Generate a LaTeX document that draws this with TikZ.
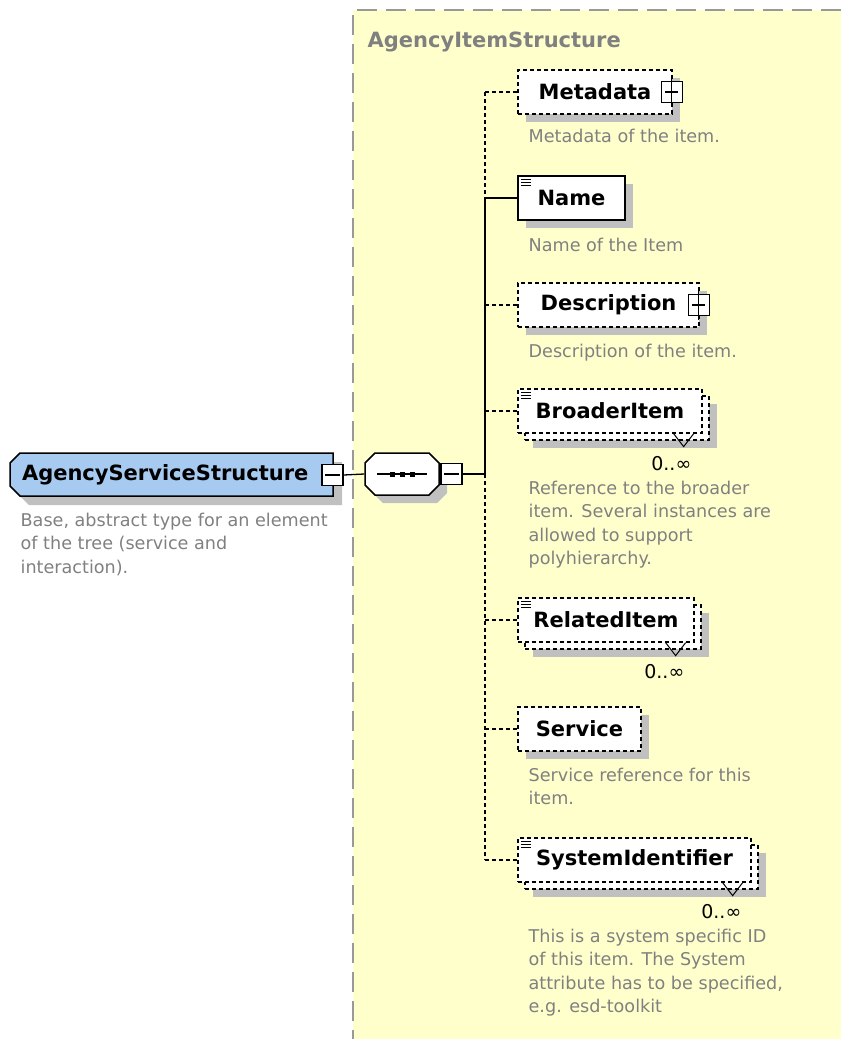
\documentclass[tikz,border=0pt]{standalone}
\usepackage{fontspec}
\setmainfont{DejaVu Sans}
\usetikzlibrary{shadows}

\definecolor{areayellow}{HTML}{FFFFCC}
\definecolor{typeblue}{HTML}{A6CAF0}
\definecolor{docgray}{HTML}{808080}
\definecolor{shadowgray}{HTML}{C0C0C0}
\definecolor{bordergray}{HTML}{999999}

\newcommand{\elemfont}{\fontsize{21}{25}\selectfont\bfseries}
\newcommand{\docfont}{\fontsize{17.6}{23.5}\selectfont}

\tikzset{
    elem/.style={draw, fill=white, line width=1.3pt, minimum height=44pt, inner sep=0pt, font=\elemfont},
    optional/.style={dash pattern=on 4pt off 3pt},
    boxshadow/.style={general shadow={fill=shadowgray, shadow xshift=8pt, shadow yshift=-8pt}},
    doc/.style={anchor=base west, inner sep=0pt, align=left, text=docgray, font=\docfont},
    occurs/.style={anchor=base east, inner sep=0pt, font=\fontsize{19}{20}\selectfont},
    togglebox/.style={draw, fill=white, line width=1.1pt, minimum width=21pt, minimum height=21pt, inner sep=0pt},
    minusbox/.style={togglebox, path picture={
        \draw[line width=1.1pt] ([xshift=3pt]path picture bounding box.west) -- ([xshift=-3pt]path picture bounding box.east);}},
    plusbox/.style={togglebox, path picture={
        \draw[line width=1.1pt] ([xshift=4pt]path picture bounding box.west) -- ([xshift=-4pt]path picture bounding box.east);}},
}

\begin{document}
\begin{tikzpicture}[x=1pt, y=-1pt, line width=1.3pt]
    \useasboundingbox (0,0) rectangle (841,1039);

    % the complex type area
    \fill[areayellow] (353,10) rectangle (841,1039);
    \draw[bordergray, line width=1.5pt, dash pattern=on 20pt off 9pt] (841,10) -- (353,10) -- (353,1039);
    \node[anchor=base west, inner sep=0pt, text=docgray, font=\elemfont] (areatitle) at (367,47) {AgencyItemStructure};

    % base type
    \fill[shadowgray, shift={(9,9)}] (20,453) -- (333,453) -- (333,496) -- (20,496) -- (10,486) -- (10,463) -- cycle;
    \filldraw[fill=typeblue, line width=1.5pt] (20,453) -- (333,453) -- (333,496) -- (20,496) -- (10,486) -- (10,463) -- cycle;
    \node[minimum width=323pt, minimum height=43pt, inner sep=0pt, text width=299pt, align=left, font=\elemfont]
          (agency) at (171.5,474.5) {AgencyServiceStructure};
    \node[minusbox] (agencytoggle) at (332.5,475) {};
    \node[doc] (agencydoc) at (20,573) {Base, abstract type for an element\\of the tree (service and\\interaction).};

    % sequence
    \fill[shadowgray, shift={(8,8)}] (365,463) -- (375,453) -- (429,453) -- (439,463) -- (439,485) -- (429,495) -- (375,495) -- (365,485) -- cycle;
    \filldraw[fill=white, line width=1.5pt] (365,463) -- (375,453) -- (429,453) -- (439,463) -- (439,485) -- (429,495) -- (375,495) -- (365,485) -- cycle;
    \node[minimum width=74pt, minimum height=42pt, inner sep=0pt] (seq) at (402,474) {};
    \draw[line width=1.3pt] ([xshift=-25pt]seq.center) -- ([xshift=25pt]seq.center);
    \foreach \dx in {-10,0,10}
        \fill ([xshift=\dx pt]seq.center) ++(-2.5,-2.5) rectangle ++(5,5);
    \node[minusbox] (seqtoggle) at (451.5,474) {};
    \coordinate (spine) at (485,474);

    \draw (agencytoggle.east) -- (seq.west);
    \draw (seqtoggle.east) -- (spine);

    % child elements
    \begin{scope}[every node/.append style={elem}]
        \node[optional, boxshadow, minimum width=154pt] (metadata) at (595,92) {Metadata};
        \node[boxshadow, minimum width=107pt] (name) at (571.5,198) {Name};
        \node[optional, boxshadow, minimum width=181pt] (description) at (608.5,305) {Description};
        \node[optional, boxshadow, minimum width=184pt] (broaderback) at (617,418) {};
        \node[optional, minimum width=184pt] (broader) at (610,411) {BroaderItem};
        \node[optional, boxshadow, minimum width=176pt] (relatedback) at (613,627) {};
        \node[optional, minimum width=176pt] (related) at (606,620) {RelatedItem};
        \node[optional, boxshadow, minimum width=123pt] (service) at (579.5,729) {Service};
        \node[optional, boxshadow, minimum width=233pt] (sysidback) at (641.5,867) {};
        \node[optional, minimum width=233pt] (sysid) at (634.5,860) {SystemIdentifier};
    \end{scope}

    \node[plusbox] (metadatatoggle) at ([xshift=-1pt]metadata.east) {};
    \node[plusbox] (descriptiontoggle) at ([xshift=-1pt]description.east) {};
    \foreach \el in {metadatatoggle,descriptiontoggle}
        \draw[line width=1.1pt] ([yshift=4pt]\el.north) -- ([yshift=-4pt]\el.south);

    % simple content marks
    \foreach \el in {name,broader,related,sysid}
        \foreach \dy in {4,7,10}
            \draw[line width=1pt] ([shift={(4,\dy)}]\el.north west) -- ++(10,0);

    % repeat marks and occurrences
    \foreach \el in {broader,related,sysid}
        \draw[line width=1pt] ([shift={(-29,0)}]\el.south east) -- ++(10,13) -- ++(10,-13);
    \node[occurs] (broaderocc) at (692,470) {0..∞};
    \node[occurs] (relatedocc) at (685,678) {0..∞};
    \node[occurs] (sysidocc) at (742,918) {0..∞};

    % documentation
    \node[doc] (metadatadoc) at (528,142) {Metadata of the item.};
    \node[doc] (namedoc) at (528,251) {Name of the Item};
    \node[doc] (descriptiondoc) at (528,357) {Description of the item.};
    \node[doc] (broaderdoc) at (528,564.5) {Reference to the broader\\item. Several instances are\\allowed to support\\polyhierarchy.};
    \node[doc] (servicedoc) at (528,804.5) {Service reference for this\\item.};
    \node[doc] (sysiddoc) at (528,1012.5) {This is a system specific ID\\of this item. The System\\attribute has to be specified,\\e.g. esd-toolkit};

    % connectors
    \draw[optional] (spine |- metadata.west) -- (spine |- name.west);
    \draw (spine |- name.west) -- (spine);
    \draw[optional] (spine) -- (spine |- sysid.west);
    \draw[optional] (spine |- metadata.west) -- (metadata.west);
    \draw (spine |- name.west) -- (name.west);
    \foreach \el in {description,broader,related,service,sysid}
        \draw[optional] (spine |- \el.west) -- (\el.west);
\end{tikzpicture}
\end{document}
